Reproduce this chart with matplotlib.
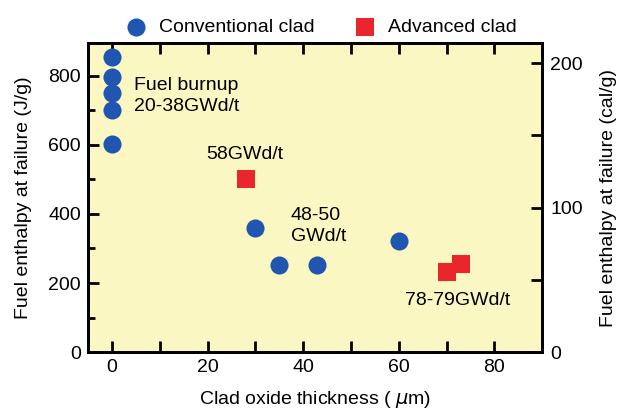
import matplotlib.pyplot as plt
from matplotlib.ticker import MultipleLocator

plt.rcParams["font.family"] = ["Liberation Sans", "DejaVu Sans"]

# conventional clad (blue circles)
conv_oxide = [0, 0, 0, 0, 0, 30, 35, 43, 60]
conv_enthalpy = [854, 797, 750, 702, 602, 360, 252, 252, 321]

# advanced clad (red squares)
adv_oxide = [28, 70, 73]
adv_enthalpy = [502, 232, 255]

J_PER_CAL = 4.184

fig = plt.figure(figsize=(6.21, 4.08), dpi=100)
ax = fig.add_axes([0.1417, 0.137, 0.7313, 0.7576])
ax.set_facecolor("#fbf7c3")

blue = "#2156b0"
red = "#e8262b"
h1 = ax.scatter(conv_oxide, conv_enthalpy, s=170, color=blue, marker="o",
                linewidths=0, zorder=3, label="Conventional clad")
h2 = ax.scatter(adv_oxide, adv_enthalpy, s=160, color=red, marker="s",
                linewidths=0, zorder=3, label="Advanced clad")

ax.set_xlim(-5, 90)
ax.set_ylim(0, 895)
ax.xaxis.set_major_locator(MultipleLocator(20))
ax.xaxis.set_minor_locator(MultipleLocator(10))
ax.yaxis.set_major_locator(MultipleLocator(200))
ax.yaxis.set_minor_locator(MultipleLocator(100))
ax.tick_params(which="both", direction="in", top=True, width=2, labelsize=14)
ax.tick_params(which="major", length=8, pad=5)
ax.tick_params(which="minor", length=5)
ax.tick_params(axis="x", which="minor", length=8)
for s in ax.spines.values():
    s.set_linewidth(2)

ax.set_xlabel("Clad oxide thickness ( $\\mu$m)", fontsize=14, labelpad=9)
ax.set_ylabel("Fuel enthalpy at failure (J/g)", fontsize=14, labelpad=12)

# right axis in cal/g
ax2 = ax.twinx()
ax2.set_ylim(0, 895 / J_PER_CAL)
ax2.yaxis.set_major_locator(MultipleLocator(100))
ax2.yaxis.set_minor_locator(MultipleLocator(50))
ax2.tick_params(which="both", direction="in", width=2, labelsize=14)
ax2.tick_params(which="major", length=8, pad=6)
ax2.tick_params(which="minor", length=8)
ax2.set_ylabel("Fuel enthalpy at failure (cal/g)", fontsize=14, labelpad=12)
for s in ax2.spines.values():
    s.set_linewidth(2)

# annotations
ax.text(4.6, 742, "Fuel burnup\n20-38GWd/t", fontsize=14, va="center",
        linespacing=1.3)
ax.text(27.7, 573, "58GWd/t", fontsize=14, ha="center", va="center")
ax.text(37.4, 365, "48-50\nGWd/t", fontsize=14, va="center", linespacing=1.3)
ax.text(72.3, 148, "78-79GWd/t", fontsize=14, ha="center", va="center")

fig.legend(handles=[h1, h2], loc="center", bbox_to_anchor=(0.51, 0.934),
           ncol=2, frameon=False, fontsize=14, handletextpad=0.2,
           columnspacing=1.6, markerscale=1.0, borderpad=0)

fig.savefig("out.png", dpi=100)
